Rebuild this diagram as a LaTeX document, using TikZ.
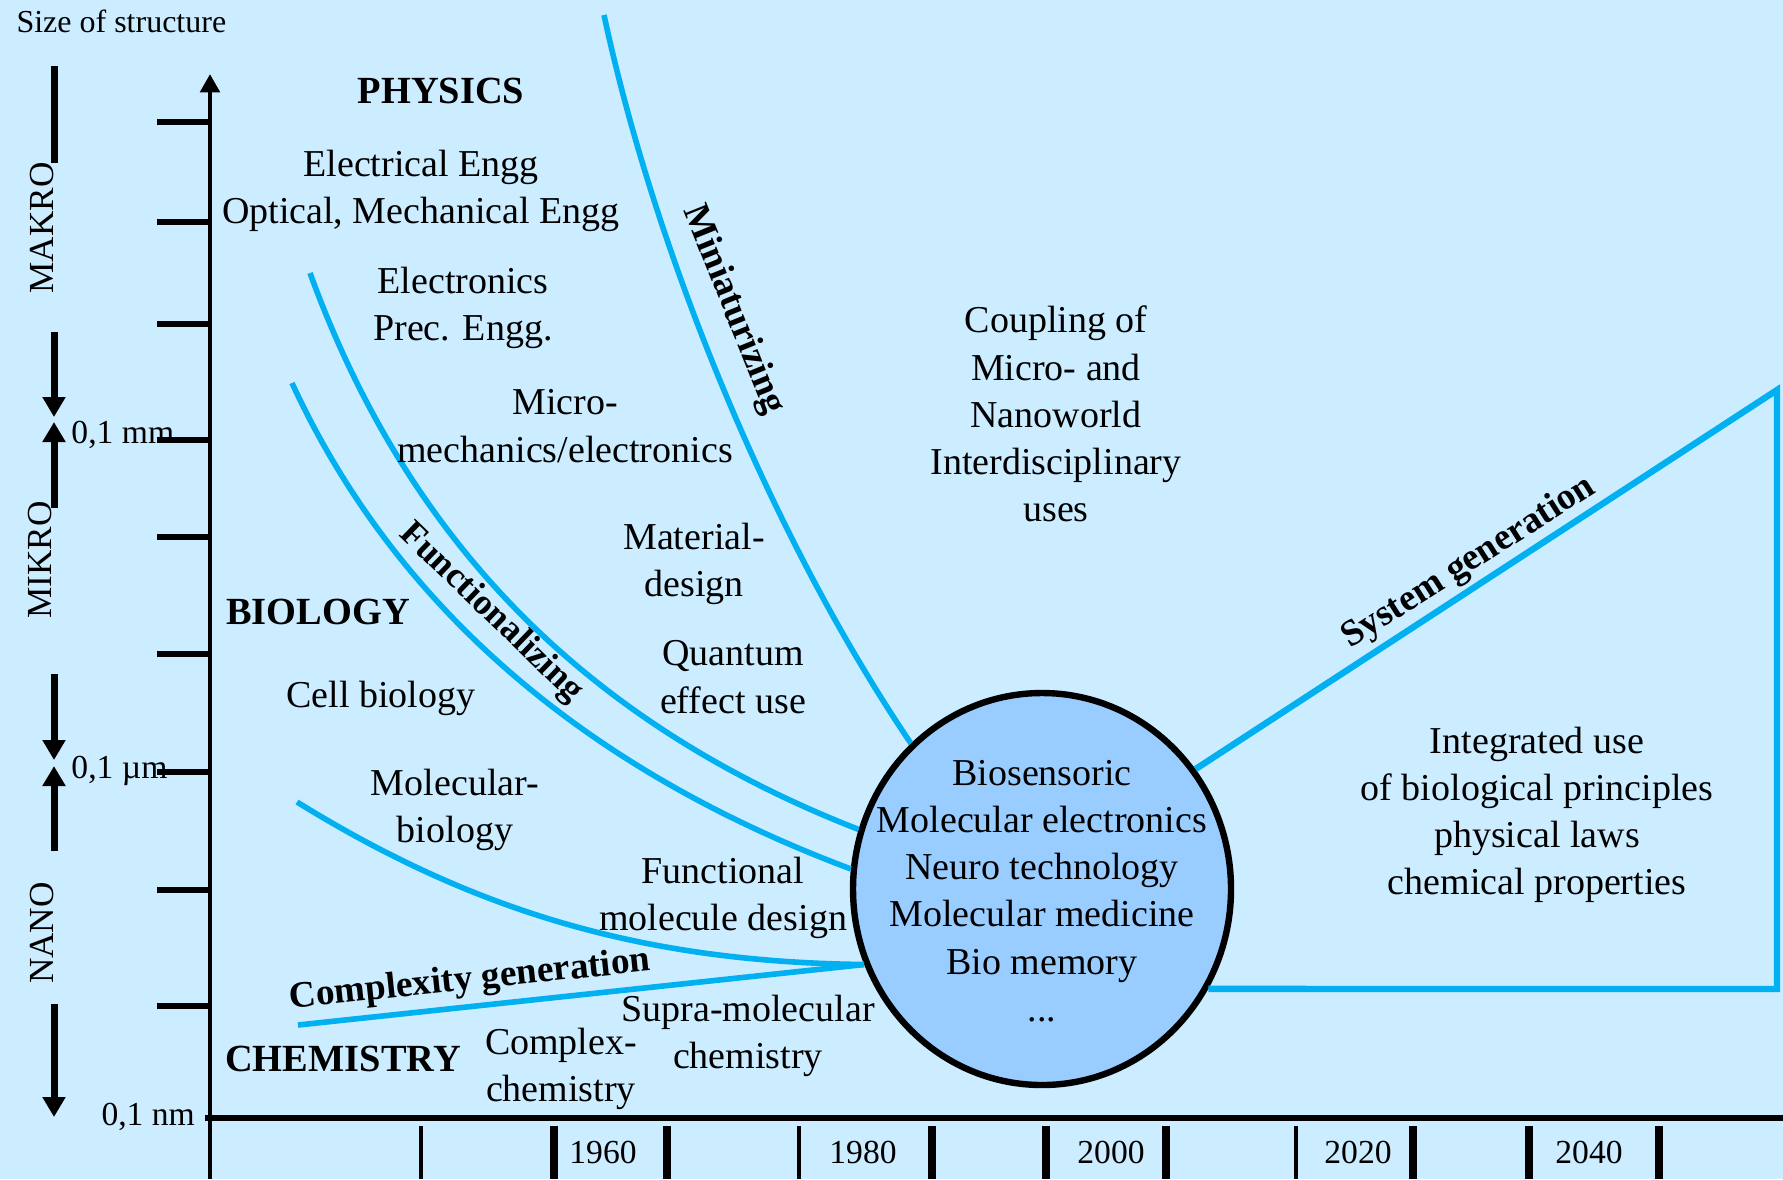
\documentclass[tikz,border=0pt]{standalone}
\usepackage{fontspec}
\setmainfont{Liberation Serif}
\usetikzlibrary{arrows.meta,shapes.geometric}

\definecolor{skybg}{RGB}{204,236,255}
\definecolor{bubblefill}{RGB}{153,204,255}
\definecolor{trendblue}{RGB}{0,176,240}

\tikzset{every picture/.style={line width=0.75pt}}
\tikzset{
  txt/.style={inner sep=0.75pt, align=center, font=\fontsize{9.5}{11.8}\selectfont},
  field/.style={inner sep=0.75pt, font=\fontsize{9.6}{12}\selectfont\bfseries},
  trendlbl/.style={inner sep=0.75pt, font=\fontsize{9.3}{11}\selectfont\bfseries},
  scalelbl/.style={inner sep=0.75pt, font=\fontsize{8.4}{10}\selectfont},
  trend/.style={color=trendblue, line width=1.4pt},
  sizebar/.style={line width=1.75pt},
  sizearrow/.style={sizebar, -{Triangle[width=5.5pt,length=5pt]}},
  ytick/.style={line width=1.3pt},
  yeartick/.style={line width=2pt},
  yeartick light/.style={line width=0.9pt},
  bubble/.style={ellipse, draw=black, line width=1.6pt, fill=bubblefill,
    minimum width=94.5pt, minimum height=98pt, inner sep=0pt}
}

\begin{document}
\begin{tikzpicture}[x=0.25pt,y=0.25pt,yscale=-1,xscale=1]
%uncomment if require: \path (0,1179); %set diagram left start at 0, and has height of 1179

%Shape: Rectangle [background]
\path [use as bounding box, fill=skybg] (0,0) rectangle (1783,1179);

%Shape: Axis 2D
\draw [line width=1.2pt, -{Triangle[width=4.8pt,length=4.6pt]}] (210,1179) -- (210,74);
\draw [line width=1.7pt] (205,1118) -- (1783,1118);
\foreach \ty in {122,222,324,440,537,654,772,890,1006}
  \draw [ytick] (157,\ty) -- (210,\ty);
\foreach \tx in {421,799,1296}
  \draw [yeartick light] (\tx,1126) -- (\tx,1179);
\foreach \tx in {554,667,932,1046,1166,1413,1529,1659}
  \draw [yeartick] (\tx,1126) -- (\tx,1179);

%Straight Lines [size scale]
\draw [sizebar] (54,66) -- (54,163);
\draw [sizearrow] (54,332) -- (54,417);
\draw [sizearrow] (54,508) -- (54,422);
\draw [sizearrow] (54,674) -- (54,760);
\draw [sizearrow] (54,851) -- (54,766);
\draw [sizearrow] (54,1004) -- (54,1117);

%Shape: Ellipse
\node [bubble] (bub) at (1042,889) {};

%Curve Lines [trends]
\draw [trend] (604,15) .. controls (650,230) and (760,520) .. (bub.132);
\draw [trend] (310,273) .. controls (400,520) and (565,715) .. (bub.162);
\draw [trend] (292,383) .. controls (385,585) and (560,760) .. (bub.174);
\draw [trend] (297,802) .. controls (475,912) and (644,962) .. (bub.203);
\coordinate (cgstart) at (298,1025);
\draw [trend] (cgstart) -- (bub.203);
%Straight Lines [system generation]
\coordinate (sgtop) at (1777,390);
\coordinate (sgbot) at (1777,989);
\draw [trend, line width=1.6pt] (bub.38) -- (sgtop) -- (sgbot) -- (bub.-31);

% Text Node
\draw (12,32) node [scalelbl, font=\fontsize{8}{10}\selectfont, anchor=base west] (sizehd) {Size of structure};
% Text Node
\draw (42,228) node [scalelbl, font=\fontsize{8.8}{10}\selectfont, rotate=90] (makro) {MAKRO};
% Text Node
\draw (40,560) node [scalelbl, font=\fontsize{8.8}{10}\selectfont, rotate=90] (mikro) {MIKRO};
% Text Node
\draw (42,933) node [scalelbl, font=\fontsize{8.8}{10}\selectfont, rotate=90] (nano) {NANO};
% Text Node
\draw (67,443) node [scalelbl, anchor=base west] (mm) {0,1 mm};
% Text Node
\draw (67,778) node [scalelbl, anchor=base west] (um) {0,1 µm};
% Text Node
\draw (97,1125) node [scalelbl, anchor=base west] (nm) {0,1 nm};
% Text Node
\foreach \yr/\xx in {1960/603,1980/863,2000/1111,2020/1358,2040/1589}
  \draw (\xx,1152) node [scalelbl] (y\yr) {\yr};

% Text Node
\draw (441,91) node [field] (physics) {PHYSICS};
% Text Node
\draw (421,191) node [txt] (engg) {Electrical Engg\\Optical, Mechanical Engg};
% Text Node
\draw (463,308) node [txt] (elec) {Electronics\\Prec. Engg.};
% Text Node
\draw (565,426) node [txt] (micro) {Micro-\\mechanics/electronics};
% Text Node
\draw (694,564) node [txt] (matdes) {Material-\\design};
% Text Node
\draw (733,677) node [txt] (quantum) {Quantum\\effect use};
% Text Node
\draw (1056,414) node [txt] (coupling) {Coupling of\\Micro- and\\Nanoworld\\Interdisciplinary\\uses};
% Text Node
\draw (318,612) node [field] (biology) {BIOLOGY};
% Text Node
\draw (381,698) node [txt] (cellbio) {Cell biology};
% Text Node
\draw (455,810) node [txt] (molbio) {Molecular-\\biology};
% Text Node
\draw (723,898) node [txt] (funcmol) {Functional\\molecule design};
% Text Node
\draw (343,1059) node [field] (chemistry) {CHEMISTRY};
% Text Node
\draw (561,1069) node [txt] (complex) {Complex-\\chemistry};
% Text Node
\draw (748,1036) node [txt] (supra) {Supra-molecular\\chemistry};
% Text Node
\draw (1042,891) node [txt] (bubtxt) {Biosensoric\\Molecular electronics\\Neuro technology\\Molecular medicine\\Bio memory\\...};
% Text Node
\draw (1537,815) node [txt] (integr) {Integrated use\\of biological principles\\physical laws\\chemical properties};

% Text Node
\draw (733,310) node [trendlbl, rotate=-68] (mini) {Miniaturizing};
% Text Node
\draw (491,613) node [trendlbl, font=\fontsize{9}{11}\selectfont\bfseries, rotate=-44] (func) {Functionalizing};
% Text Node
\draw (1469,563) node [trendlbl, rotate=32.5] (sysgen) {System generation};
% Text Node
\draw (470,981) node [trendlbl, rotate=6] (cplxgen) {Complexity generation};

\end{tikzpicture}
\end{document}
